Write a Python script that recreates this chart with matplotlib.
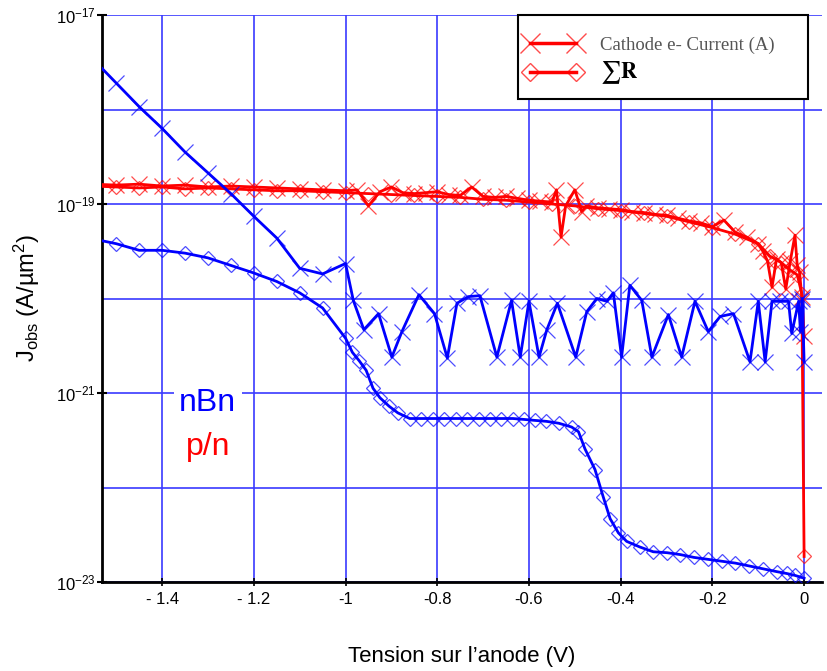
import numpy as np
import matplotlib
matplotlib.use('Agg')
import matplotlib.pyplot as plt
from matplotlib import font_manager
from matplotlib.lines import Line2D
from matplotlib.patches import Rectangle
from matplotlib.ticker import FixedLocator, NullFormatter

names = {f.name for f in font_manager.fontManager.ttflist}
narrow = 'Liberation Sans Narrow' if 'Liberation Sans Narrow' in names else 'Liberation Sans'
plt.rcParams['font.family'] = 'Liberation Sans'
plt.rcParams['mathtext.fontset'] = 'custom'
plt.rcParams['mathtext.rm'] = 'Liberation Sans'
plt.rcParams['mathtext.it'] = 'Liberation Sans:italic'
plt.rcParams['mathtext.bf'] = 'Liberation Serif:bold'

# nBn : cathode current (x markers), exponents of J (A/um2)
nbn_cur_v = [-1.55, -1.5, -1.45, -1.4, -1.35, -1.3, -1.25, -1.2, -1.15, -1.1, -1.05, -1.0,
             -0.983, -0.96, -0.928, -0.899, -0.877, -0.84, -0.806, -0.778, -0.757, -0.732,
             -0.707, -0.67, -0.638, -0.619, -0.6, -0.578, -0.561, -0.538, -0.498, -0.474,
             -0.452, -0.43, -0.416, -0.398, -0.38, -0.354, -0.332, -0.296, -0.267, -0.238,
             -0.209, -0.183, -0.154, -0.118, -0.1, -0.085, -0.07, -0.052, -0.034, -0.027,
             -0.012, -0.008, -0.004, 0.0]
nbn_cur_exp = [-17.47, -17.72, -17.97, -18.20, -18.45, -18.67, -18.89, -19.13, -19.36, -19.68,
               -19.74, -19.63, -20.02, -20.33, -20.16, -20.62, -20.35, -19.96, -20.16, -20.63,
               -20.05, -19.98, -19.97, -20.62, -20.02, -20.62, -20.03, -20.62, -20.33, -20.05,
               -20.62, -20.14, -20.00, -20.03, -19.94, -20.62, -19.86, -20.02, -20.62, -20.17,
               -20.62, -20.03, -20.35, -20.19, -20.16, -20.67, -20.03, -20.67, -20.03, -20.03,
               -20.03, -20.37, -20.03, -20.35, -20.00, -20.67]

# nBn : sum R (diamonds)
nbn_sr_v = [-1.55, -1.5, -1.45, -1.4, -1.35, -1.3, -1.25, -1.2, -1.15, -1.1, -1.05, -1.0,
            -0.985, -0.97, -0.955, -0.94, -0.925, -0.905, -0.886, -0.86, -0.835, -0.81,
            -0.785, -0.76, -0.735, -0.71, -0.685, -0.66, -0.635, -0.61, -0.587, -0.562,
            -0.535, -0.507, -0.492, -0.478, -0.456, -0.438, -0.423, -0.405, -0.387, -0.358,
            -0.329, -0.299, -0.27, -0.24, -0.21, -0.18, -0.15, -0.12, -0.09, -0.06, -0.038,
            -0.02, 0.0]
nbn_sr_exp = [-19.37, -19.42, -19.49, -19.49, -19.52, -19.57, -19.65, -19.73, -19.82, -19.94,
              -20.10, -20.42, -20.57, -20.66, -20.76, -20.95, -21.05, -21.14, -21.21, -21.27,
              -21.27, -21.27, -21.27, -21.27, -21.27, -21.27, -21.27, -21.27, -21.27, -21.28,
              -21.29, -21.30, -21.32, -21.36, -21.41, -21.59, -21.81, -22.10, -22.33, -22.48,
              -22.57, -22.63, -22.68, -22.69, -22.71, -22.74, -22.76, -22.78, -22.80, -22.83,
              -22.86, -22.89, -22.91, -22.93, -22.96]

# p/n : cathode current (x markers)
pn_cur_v = [-1.55, -1.5, -1.45, -1.4, -1.35, -1.3, -1.25, -1.2, -1.15, -1.1, -1.05, -1.0,
            -0.975, -0.95, -0.925, -0.9, -0.875, -0.85, -0.825, -0.8, -0.775, -0.75, -0.725,
            -0.7, -0.675, -0.65, -0.625, -0.6, -0.575, -0.55, -0.54, -0.53, -0.52, -0.5,
            -0.485, -0.475, -0.45, -0.425, -0.4, -0.375, -0.35, -0.325, -0.3, -0.275, -0.25,
            -0.225, -0.2, -0.175, -0.15, -0.125, -0.1, -0.09, -0.08, -0.07, -0.06, -0.05,
            -0.04, -0.03, -0.02, -0.015, -0.01, -0.005, 0.0]
pn_cur_exp = [-18.79, -18.80, -18.79, -18.81, -18.80, -18.82, -18.81, -18.82, -18.83, -18.84,
              -18.85, -18.86, -18.85, -19.02, -18.87, -18.82, -18.88, -18.89, -18.88, -18.87,
              -18.90, -18.91, -18.82, -18.92, -18.93, -18.92, -18.94, -18.96, -18.97, -18.98,
              -18.85, -19.35, -19.02, -18.85, -19.08, -19.02, -19.04, -19.05, -19.06, -19.08,
              -19.09, -19.11, -19.12, -19.15, -19.18, -19.20, -19.24, -19.17, -19.30, -19.35,
              -19.42, -19.50, -19.60, -19.88, -19.58, -19.62, -19.90, -19.60, -19.33, -19.65,
              -19.72, -19.98, -20.40]

# p/n : sum R (diamonds)
pn_sr_v = [-1.55, -1.5, -1.45, -1.4, -1.35, -1.3, -1.25, -1.2, -1.15, -1.1, -1.05, -1.0,
           -0.95, -0.9, -0.85, -0.8, -0.75, -0.7, -0.65, -0.6, -0.55, -0.5, -0.45, -0.4,
           -0.35, -0.3, -0.25, -0.2, -0.15, -0.1, -0.075, -0.05, -0.03, -0.015, -0.005, 0.0]
pn_sr_exp = [-18.81, -18.82, -18.83, -18.82, -18.84, -18.83, -18.84, -18.85, -18.86, -18.86,
             -18.87, -18.88, -18.89, -18.90, -18.91, -18.92, -18.93, -18.95, -18.96, -18.98,
             -19.00, -19.02, -19.05, -19.07, -19.10, -19.13, -19.19, -19.25, -19.32, -19.42,
             -19.55, -19.62, -19.70, -19.75, -19.95, -22.73]

x_ticks = [-1.4, -1.2, -1.0, -0.8, -0.6, -0.4, -0.2, 0.0]
x_ticklabels = ['- 1.4', '- 1.2', '-1', '-0.8', '-0.6', '-0.4', '-0.2', '0']
y_ticks = [1e-23, 1e-21, 1e-19, 1e-17]
y_ticklabels = [r'10$^{-23}$', r'10$^{-21}$', r'10$^{-19}$', r'10$^{-17}$']

BLUE = '#0000ff'
RED = '#ff0000'
GRID = '#3a3aff'

fig = plt.figure(figsize=(8.28, 6.71), dpi=100)
ax = fig.add_axes([102/828, 1 - 582/671, 720/828, 567/671])

lw = 2.0
ax.plot(pn_cur_v, np.power(10.0, pn_cur_exp), color=RED, lw=lw, marker='x', ms=11,
        mew=0.9, mec=(1, 0, 0, 0.7), zorder=4)
ax.plot(pn_sr_v, np.power(10.0, pn_sr_exp), color=RED, lw=lw, marker='D', ms=7.5,
        mew=0.9, mfc='none', mec=(1, 0, 0, 0.7), zorder=4)
ax.plot(nbn_cur_v, np.power(10.0, nbn_cur_exp), color=BLUE, lw=lw, marker='x', ms=11,
        mew=0.9, mec=(0, 0, 1, 0.7), zorder=5)
ax.plot(nbn_sr_v, np.power(10.0, nbn_sr_exp), color=BLUE, lw=lw, marker='D', ms=7.5,
        mew=0.9, mfc='none', mec=(0, 0, 1, 0.7), zorder=5)

ax.set_yscale('log')
ax.set_xlim(-1.531, 0.039)
ax.set_ylim(1e-23, 1e-17)

ax.set_xticks(x_ticks)
ax.set_xticklabels(x_ticklabels, family=narrow, fontsize=12)
ax.set_yticks(y_ticks)
ax.set_yticklabels(y_ticklabels, fontsize=12)
ax.yaxis.set_minor_locator(FixedLocator([1e-22, 1e-20, 1e-18]))
ax.yaxis.set_minor_formatter(NullFormatter())
ax.tick_params(axis='y', which='major', direction='inout', length=7, width=1.5, pad=1)
ax.tick_params(axis='y', which='minor', length=0)
ax.tick_params(axis='x', which='major', direction='inout', length=6, width=1.2,
               color='black', pad=4)

ax.grid(True, which='both', color=GRID, lw=1.2, zorder=1)
ax.set_axisbelow(True)
for s in ['top', 'right']:
    ax.spines[s].set_visible(False)
ax.spines['left'].set_linewidth(2)
ax.spines['bottom'].set_linewidth(2)

ax.set_xlabel("Tension sur l\u2019anode (V)", family=narrow, fontsize=16, labelpad=28)
ax.set_ylabel('J$_{\\mathregular{obs}}$ (A/\u00b5m$^{2}$)', fontsize=17, labelpad=10)

box = dict(facecolor='white', edgecolor='none', pad=4)
ax.text(0.147, 0.316, 'nBn', transform=ax.transAxes, color=BLUE, fontsize=23,
        ha='center', va='center', bbox=box, zorder=6)
ax.text(0.147, 0.238, 'p/n', transform=ax.transAxes, color=RED, fontsize=23,
        ha='center', va='center', bbox=box, zorder=6)

# legend box drawn separately so the padding can differ per side
ax.add_patch(Rectangle((0.578, 0.852), 0.403, 0.148, transform=ax.transAxes,
                       facecolor='white', edgecolor='black', lw=1.5, zorder=9,
                       clip_on=False))
handles = [Line2D([], [], color=RED, lw=2.5, marker='x', ms=14, mew=1, mec=(1, 0, 0, 0.7)),
           Line2D([], [], color=RED, lw=2.5, marker='D', ms=9, mew=1, mfc='none',
                  mec=(1, 0, 0, 0.7))]
leg = ax.legend(handles, ['Cathode e- Current (A)', r'$\sum\mathbf{R}$'],
                loc='upper left', bbox_to_anchor=(0.586, 0.962), frameon=False,
                borderaxespad=0, borderpad=0, numpoints=2, handlelength=3.1,
                handletextpad=0.95, labelspacing=0.3,
                prop={'family': 'Liberation Serif', 'size': 13.5})
leg.get_texts()[0].set_color('#555555')
leg.get_texts()[1].set_math_fontfamily('stix')
leg.get_texts()[1].set_fontsize(16)
leg.set_zorder(10)

plt.savefig('out.png', dpi=100)
plt.close()
